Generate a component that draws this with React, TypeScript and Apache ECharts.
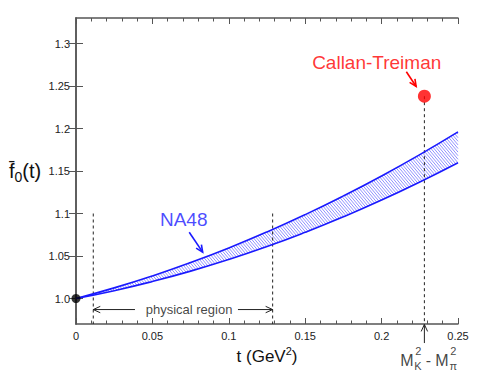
import React, { useEffect, useRef } from "react";
import * as echarts from "echarts";

// ---- data ----
const tValues = [0, 0.025, 0.05, 0.075, 0.1, 0.125, 0.15, 0.175, 0.2, 0.225, 0.25];
const bandUpper = [1.0, 1.0125, 1.0266, 1.0423, 1.0595, 1.0783, 1.0987, 1.1207, 1.1442, 1.1693, 1.196];
const bandLower = [1.0, 1.0092, 1.02, 1.0322, 1.0459, 1.0611, 1.0779, 1.0961, 1.1158, 1.1371, 1.1598];

const yTicks = [1.0, 1.05, 1.1, 1.15, 1.2, 1.25, 1.3];
const yTickLabels = ["1.0", "1.05", "1.1", "1.15", "1.2", "1.25", "1.3"];
const xMin = 0;
const xMax = 0.25;
const xInterval = 0.05;
const yMin = 0.97;
const yMax = 1.33;

const originPoint = [0, 1.0];
const callanTreiman = [0.228, 1.238];
const physicalRegion = [0.0113, 0.1287];
const physicalTop = 1.1;
const physicalArrowY = 0.987;

// annotation arrows: [x from, y from, x to, y to]
const arrowLines = [
  [0.0386, physicalArrowY, physicalRegion[0], physicalArrowY],
  [0.106, physicalArrowY, physicalRegion[1], physicalArrowY],
  [0.2162, 1.2668, 0.2226, 1.2494],
  [0.0741, 1.078, 0.0829, 1.0545],
  [callanTreiman[0], 0.9476, callanTreiman[0], 0.9695],
];
const arrowColorKeys = ["black", "black", "red", "blue", "black"];

const FONT = "Liberation Sans";
const BLUE = "#1a1aff";
const RED = "#ff0000";
const COLORS: Record<string, string> = { black: "#222", red: RED, blue: BLUE };

export default function App() {
  const ref = useRef<HTMLDivElement>(null);
  useEffect(() => {
    const chart = echarts.init(ref.current!, null, { renderer: "svg" });
    const axisColor = "#555";
    const tickLabel = { fontFamily: FONT, fontSize: 11, color: "#222" };

    const dashed = (x: number, top: number) => ({
      type: "line",
      data: [
        [x, top],
        [x, yMin],
      ],
      symbol: "none",
      lineStyle: { color: "#222", width: 1, type: [3, 3] },
      z: 3,
      silent: true,
    });

    const renderHatch = (params: any, api: any) => {
      const up = tValues.map((t, i) => api.coord([t, bandUpper[i]]));
      const lo = tValues.map((t, i) => api.coord([t, bandLower[i]]));
      const interp = (pts: number[][], x: number) => {
        if (x <= pts[0][0]) return pts[0][1];
        for (let i = 1; i < pts.length; i++) {
          if (x <= pts[i][0]) {
            const a = pts[i - 1];
            const b = pts[i];
            return a[1] + ((b[1] - a[1]) * (x - a[0])) / (b[0] - a[0]);
          }
        }
        return pts[pts.length - 1][1];
      };
      const xa = up[0][0];
      const xb = up[up.length - 1][0];
      let minY = Infinity;
      let maxY = -Infinity;
      up.concat(lo).forEach((p) => {
        minY = Math.min(minY, p[1]);
        maxY = Math.max(maxY, p[1]);
      });
      const k = 1.2;
      const step = 3;
      const cross = (pts: number[][], x0: number) => {
        const g = (x: number) => minY + k * (x - x0) - interp(pts, x);
        if (g(xa) >= 0) return xa;
        if (g(xb) <= 0) return xb;
        let a = xa;
        let b = xb;
        for (let it = 0; it < 40; it++) {
          const m = (a + b) / 2;
          if (g(m) < 0) a = m;
          else b = m;
        }
        return (a + b) / 2;
      };
      const children: any[] = [];
      const span = (maxY - minY) / k;
      for (let x0 = xa - span; x0 <= xb; x0 += step) {
        const xu = cross(up, x0);
        const xl = cross(lo, x0);
        if (xl - xu > 0.3) {
          children.push({
            type: "line",
            shape: { x1: xu, y1: minY + k * (xu - x0), x2: xl, y2: minY + k * (xl - x0) },
            style: { stroke: "rgba(60,60,255,0.8)", lineWidth: 0.7 },
          });
        }
      }
      return { type: "group", children };
    };

    const renderArrow = (params: any, api: any) => {
      const p1 = api.coord([api.value(0), api.value(1)]);
      const p2 = api.coord([api.value(2), api.value(3)]);
      const dx = p2[0] - p1[0];
      const dy = p2[1] - p1[1];
      const len = Math.hypot(dx, dy) || 1;
      const ux = dx / len;
      const uy = dy / len;
      const hl = 7;
      const hw = 3.2;
      const key = arrowColorKeys[params.dataIndex];
      const color = COLORS[key];
      const lw = key === "black" ? 1 : 1.6;
      return {
        type: "group",
        children: [
          {
            type: "line",
            shape: { x1: p1[0], y1: p1[1], x2: p2[0], y2: p2[1] },
            style: { stroke: color, lineWidth: lw },
          },
          {
            type: "polyline",
            shape: {
              points: [
                [p2[0] - hl * ux - hw * uy, p2[1] - hl * uy + hw * ux],
                [p2[0], p2[1]],
                [p2[0] - hl * ux + hw * uy, p2[1] - hl * uy - hw * ux],
              ],
            },
            style: { stroke: color, lineWidth: lw, fill: null },
          },
        ],
      };
    };

    const option: any = {
      animation: false,
      backgroundColor: "#fff",
      grid: { left: 76, right: 36, top: 18, bottom: 58 },
      xAxis: [
        {
          type: "value",
          min: xMin,
          max: xMax,
          interval: xInterval,
          position: "bottom",
          axisLine: { show: true, lineStyle: { color: axisColor, width: 1.5 } },
          axisTick: { show: true, inside: true, length: 6, lineStyle: { color: axisColor } },
          minorTick: { show: true, splitNumber: 5, length: 3.5, lineStyle: { color: axisColor } },
          splitLine: { show: false },
          axisLabel: { ...tickLabel, margin: 6 },
          name: "{t|t (GeV}{sup|2}{t|)}",
          nameLocation: "middle",
          nameGap: 29,
          nameTextStyle: {
            align: "center",
            verticalAlign: "middle",
            rich: {
              t: { fontFamily: FONT, fontSize: 17, color: "#111", lineHeight: 22 },
              sup: { fontFamily: FONT, fontSize: 11, color: "#111", lineHeight: 10, verticalAlign: "top" },
            },
          },
        },
        {
          type: "value",
          min: xMin,
          max: xMax,
          interval: xInterval,
          position: "top",
          axisLine: { show: true, lineStyle: { color: axisColor, width: 1.5 } },
          axisTick: { show: true, inside: true, length: 6, lineStyle: { color: axisColor } },
          minorTick: { show: true, splitNumber: 5, length: 3.5, lineStyle: { color: axisColor } },
          splitLine: { show: false },
          axisLabel: { show: false },
        },
      ],
      yAxis: [
        {
          type: "value",
          min: yMin,
          max: yMax,
          position: "left",
          axisLine: { show: true, lineStyle: { color: axisColor, width: 1.5 } },
          axisTick: { show: true, inside: true, length: 7, customValues: yTicks, lineStyle: { color: axisColor } },
          splitLine: { show: false },
          axisLabel: {
            ...tickLabel,
            margin: 6,
            customValues: yTicks,
            formatter: (v: number) => {
              const i = yTicks.findIndex((y) => Math.abs(y - v) < 1e-6);
              return i >= 0 ? yTickLabels[i] : "";
            },
          },
          name: "{f|f\u0304}{s|0}{f|(t)}",
          nameLocation: "middle",
          nameRotate: 0,
          nameGap: 51,
          nameTextStyle: {
            align: "center",
            verticalAlign: "middle",
            rich: {
              f: { fontFamily: FONT, fontSize: 20, color: "#111", lineHeight: 26 },
              s: { fontFamily: FONT, fontSize: 14, color: "#111", lineHeight: 10, verticalAlign: "bottom" },
            },
          },
        },
        {
          type: "value",
          min: yMin,
          max: yMax,
          position: "right",
          axisLine: { show: true, lineStyle: { color: axisColor, width: 1.5 } },
          axisTick: { show: true, inside: true, length: 7, customValues: yTicks, lineStyle: { color: axisColor } },
          splitLine: { show: false },
          axisLabel: { show: false },
        },
      ],
      series: [
        { type: "custom", data: [[tValues[0], bandLower[0]]], renderItem: renderHatch, silent: true, z: 2 },
        {
          type: "line",
          data: tValues.map((t, i) => [t, bandUpper[i]]),
          symbol: "none",
          smooth: true,
          lineStyle: { color: BLUE, width: 1.6 },
          z: 4,
        },
        {
          type: "line",
          data: tValues.map((t, i) => [t, bandLower[i]]),
          symbol: "none",
          smooth: true,
          lineStyle: { color: BLUE, width: 1.6 },
          z: 4,
        },
        dashed(physicalRegion[0], physicalTop),
        dashed(physicalRegion[1], physicalTop),
        dashed(callanTreiman[0], callanTreiman[1]),
        { type: "scatter", data: [originPoint], symbolSize: 9, itemStyle: { color: "#000" }, clip: false, z: 6 },
        { type: "scatter", data: [callanTreiman], symbolSize: 13, itemStyle: { color: RED }, clip: false, z: 6 },
        { type: "custom", data: arrowLines, renderItem: renderArrow, clip: false, silent: true, z: 10 },
        {
          type: "scatter",
          symbolSize: 1,
          itemStyle: { color: "rgba(0,0,0,0)" },
          clip: false,
          silent: true,
          z: 7,
          label: { show: true, position: "inside" },
          data: [
            {
              value: [0.074, physicalArrowY],
              label: { formatter: "physical region", fontFamily: FONT, fontSize: 13, color: "#111" },
            },
            {
              value: [0.1968, 1.2775],
              label: { formatter: "Callan-Treiman", fontFamily: FONT, fontSize: 19, color: RED },
            },
            {
              value: [0.0705, 1.0929],
              label: { formatter: "NA48", fontFamily: FONT, fontSize: 19, color: BLUE },
            },
            {
              value: [callanTreiman[0], 0.9312],
              label: {
                offset: [4, 0],
                formatter: [
                  "{g0| }{sup|2}{g1| }{sup2|2}",
                  "{m|M}{c| }{d|-}{m|M}{c| }",
                  "{g2| }{sub|K}{g3| }{sub2|\u03c0}",
                ].join("\n"),
                rich: {
                  g0: { width: 15, fontSize: 1, lineHeight: 10.6 },
                  sup: { width: 7, fontFamily: FONT, fontSize: 11, color: "#111", lineHeight: 10.6 },
                  g1: { width: 28, fontSize: 1, lineHeight: 10.6 },
                  sup2: { width: 7, fontFamily: FONT, fontSize: 11, color: "#111", lineHeight: 10.6 },
                  m: { width: 14, fontFamily: FONT, fontSize: 16, color: "#111", lineHeight: 8 },
                  c: { width: 8, fontSize: 1, lineHeight: 8 },
                  d: { width: 13, align: "center", fontFamily: FONT, fontSize: 16, color: "#111", lineHeight: 8 },
                  g2: { width: 14, fontSize: 1, lineHeight: 3.4 },
                  sub: { width: 8, fontFamily: FONT, fontSize: 11, color: "#111", lineHeight: 3.4 },
                  g3: { width: 28, fontSize: 1, lineHeight: 3.4 },
                  sub2: { width: 7, fontFamily: FONT, fontSize: 11, color: "#111", lineHeight: 3.4 },
                },
              },
            },
          ],
        },
      ],
    };
    chart.setOption(option);
    return () => chart.dispose();
  }, []);
  return (
    <div
      ref={ref}
      style={{ position: "fixed", left: 0, top: 0, width: 494, height: 382, background: "#fff" }}
    />
  );
}
